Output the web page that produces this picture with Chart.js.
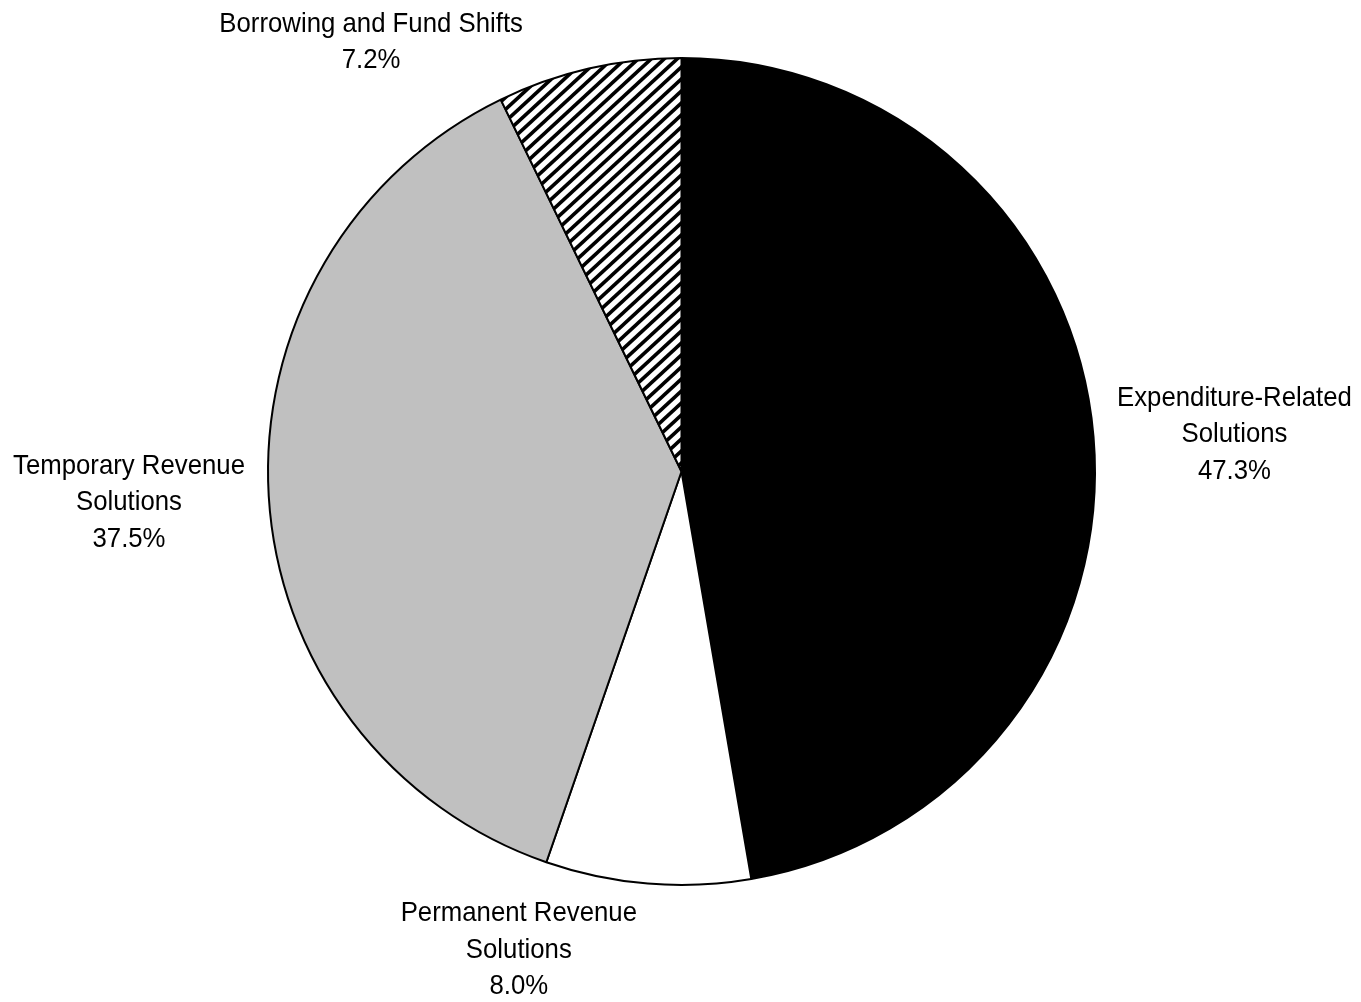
<!DOCTYPE html>
<html>
<head>
<meta charset="utf-8">
<script src="https://cdn.jsdelivr.net/npm/chart.js@4/dist/chart.umd.min.js"></script>
<style>
  html, body { margin: 0; padding: 0; background: #fff; }
  #wrap { width: 1361px; height: 1002px; }
</style>
</head>
<body>
<div id="wrap"><canvas id="pieChart" width="1361" height="1002"></canvas></div>
<script>
// Budget solutions by type (share of total)
const categories = [
  ['Expenditure-Related', 'Solutions'],
  ['Permanent Revenue', 'Solutions'],
  ['Temporary Revenue', 'Solutions'],
  ['Borrowing and Fund Shifts']
];
const shares = [47.3, 8.0, 37.5, 7.2];

// label nudges (px) applied after the outside-end placement
const labelNudge = [[8, 4], [-118, -4], [-8, 2], [-180, 25]];

const FONT = '"Liberation Sans", Arial, sans-serif';
const FONT_SIZE = 28;
const NARROW = 0.92;   // squeeze to a condensed face
const LINE_H = 36.5;

// diagonal hatch fill for the borrowing slice
function makeHatch() {
  const w = 13, h = 12;
  const c = document.createElement('canvas');
  c.width = w;
  c.height = h;
  const g = c.getContext('2d');
  g.fillStyle = '#fff';
  g.fillRect(0, 0, w, h);
  g.strokeStyle = '#000';
  g.lineWidth = 3.6;
  for (let k = -1; k <= 1; k++) {
    g.beginPath();
    g.moveTo(-w + k * w, 2 * h);
    g.lineTo(2 * w + k * w, -h);
    g.stroke();
  }
  return g.createPattern(c, 'repeat');
}

const ctx = document.getElementById('pieChart').getContext('2d');

const outsideLabels = {
  id: 'outsideLabels',
  afterDraw(chart) {
    const meta = chart.getDatasetMeta(0);
    const g = chart.ctx;
    g.save();
    g.font = FONT_SIZE + 'px ' + FONT;
    g.fillStyle = '#000';
    g.textAlign = 'center';
    g.textBaseline = 'middle';
    meta.data.forEach((arc, i) => {
      const lines = categories[i].concat([shares[i].toFixed(1) + '%']);
      const w = NARROW * Math.max(...lines.map(l => g.measureText(l).width));
      const h = lines.length * LINE_H;
      const mid = (arc.startAngle + arc.endAngle) / 2;
      const r = arc.outerRadius + 16;
      const cos = Math.cos(mid), sin = Math.sin(mid);
      const cx = arc.x + cos * r + cos * w / 2 + labelNudge[i][0];
      const cy = arc.y + sin * r + sin * h / 2 + labelNudge[i][1];
      lines.forEach((l, j) => {
        g.save();
        g.translate(cx, cy - h / 2 + LINE_H * (j + 0.5));
        g.scale(NARROW, 1);
        g.fillText(l, 0, 0);
        g.restore();
      });
    });
    g.restore();
  }
};

new Chart(ctx, {
  type: 'pie',
  data: {
    labels: categories.map(c => c.join(' ')),
    datasets: [{
      data: shares,
      backgroundColor: ['#000000', '#ffffff', '#c0c0c0', makeHatch()],
      borderColor: '#000000',
      borderWidth: 2
    }]
  },
  options: {
    responsive: false,
    animation: false,
    layout: { padding: { top: 57, bottom: 116, left: 267, right: 265 } },
    plugins: {
      legend: { display: false },
      tooltip: { enabled: false }
    }
  },
  plugins: [outsideLabels]
});
</script>
</body>
</html>
